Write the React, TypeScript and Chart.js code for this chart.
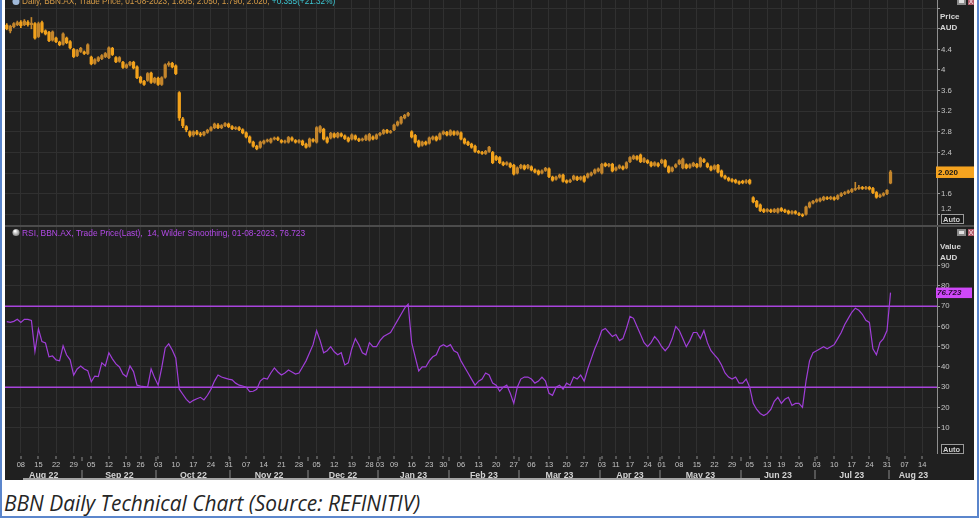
import React, { useEffect, useRef } from 'react';
import { Chart, registerables } from 'chart.js';

Chart.register(...registerables);

// ---------------- data ----------------
const FIRST_SESSION = '2022-08-02';
const AXIS_END = '2023-08-18';
const ASX_HOLIDAYS = ['2022-09-22', '2022-12-26', '2022-12-27', '2023-01-02', '2023-01-26', '2023-04-07', '2023-04-10', '2023-04-25', '2023-06-12'];
const MONTH_NAMES = ['Jan', 'Feb', 'Mar', 'Apr', 'May', 'Jun', 'Jul', 'Aug', 'Sep', 'Oct', 'Nov', 'Dec'];

const openPx = [
  4.87, 4.76, 4.84, 4.88, 4.93, 4.88, 4.93, 4.88, 4.90, 4.65,
  4.92, 4.76, 4.73, 4.58, 4.62, 4.54, 4.50, 4.62, 4.55, 4.40,
  4.28, 4.36, 4.35, 4.32, 4.25, 4.13, 4.18, 4.22, 4.26, 4.24,
  4.42, 4.24, 4.17, 4.15, 4.05, 4.10, 4.15, 4.06, 3.86, 3.78,
  3.80, 3.94, 3.76, 3.84, 3.72, 3.86, 4.10, 4.13, 4.08, 3.56,
  3.05, 2.90, 2.80, 2.74, 2.80, 2.76, 2.74, 2.79, 2.83, 2.88,
  2.93, 2.88, 2.92, 2.95, 2.90, 2.86, 2.88, 2.84, 2.78, 2.70,
  2.60, 2.52, 2.50, 2.58, 2.62, 2.60, 2.66, 2.68, 2.63, 2.60,
  2.60, 2.68, 2.63, 2.60, 2.62, 2.56, 2.52, 2.65, 2.60, 2.80,
  2.85, 2.68, 2.68, 2.76, 2.70, 2.76, 2.72, 2.68, 2.66, 2.72,
  2.66, 2.64, 2.65, 2.64, 2.70, 2.67, 2.74, 2.77, 2.83, 2.79,
  2.84, 2.93, 2.97, 3.07, 3.12, 2.80, 2.73, 2.62, 2.54, 2.60,
  2.58, 2.66, 2.70, 2.66, 2.76, 2.79, 2.74, 2.80, 2.75, 2.78,
  2.66, 2.60, 2.56, 2.52, 2.42, 2.40, 2.38, 2.42, 2.40, 2.32,
  2.30, 2.20, 2.17, 2.18, 2.15, 2.00, 2.10, 2.14, 2.10, 2.12,
  2.06, 2.04, 2.00, 2.05, 2.08, 1.92, 1.88, 1.92, 1.96, 1.85,
  1.83, 1.88, 1.92, 1.88, 1.93, 1.92, 1.96, 2.00, 2.04, 2.00,
  2.18, 2.14, 2.17, 2.06, 2.10, 2.12, 2.10, 2.22, 2.28, 2.32,
  2.35, 2.22, 2.24, 2.20, 2.15, 2.18, 2.20, 2.24, 2.12, 2.04,
  2.12, 2.18, 2.10, 2.16, 2.11, 2.14, 2.17, 2.13, 2.26, 2.18,
  2.12, 2.08, 2.15, 2.04, 1.94, 1.90, 1.87, 1.86, 1.83, 1.84,
  1.82, 1.86, 1.52, 1.45, 1.38, 1.29, 1.26, 1.28, 1.25, 1.24,
  1.31, 1.28, 1.26, 1.22, 1.25, 1.21, 1.19, 1.20, 1.34, 1.42,
  1.45, 1.46, 1.48, 1.52, 1.50, 1.52, 1.50, 1.56, 1.60, 1.62,
  1.64, 1.68, 1.70, 1.72, 1.70, 1.72, 1.70, 1.62, 1.54, 1.57,
  1.60, 1.805
];
const highPx = [
  4.90, 4.87, 4.92, 4.95, 4.96, 4.98, 4.96, 5.02, 4.92, 4.93,
  4.95, 4.78, 4.75, 4.76, 4.64, 4.56, 4.72, 4.64, 4.57, 4.42,
  4.40, 4.44, 4.37, 4.51, 4.27, 4.22, 4.26, 4.30, 4.34, 4.45,
  4.44, 4.26, 4.26, 4.17, 4.12, 4.17, 4.17, 4.08, 3.88, 3.80,
  3.95, 3.96, 3.86, 3.86, 3.87, 4.12, 4.16, 4.15, 4.10, 3.58,
  3.08, 2.92, 2.82, 2.82, 2.83, 2.79, 2.81, 2.85, 2.90, 2.97,
  2.96, 2.94, 2.98, 2.97, 2.92, 2.90, 2.90, 2.86, 2.80, 2.72,
  2.62, 2.54, 2.62, 2.64, 2.66, 2.68, 2.70, 2.70, 2.65, 2.64,
  2.71, 2.70, 2.65, 2.65, 2.64, 2.58, 2.68, 2.67, 2.90, 2.92,
  2.87, 2.70, 2.79, 2.78, 2.79, 2.78, 2.74, 2.70, 2.76, 2.74,
  2.68, 2.68, 2.74, 2.77, 2.72, 2.76, 2.79, 2.85, 2.85, 2.83,
  2.95, 3.01, 3.10, 3.14, 3.18, 2.82, 2.75, 2.64, 2.62, 2.62,
  2.70, 2.72, 2.72, 2.78, 2.82, 2.81, 2.84, 2.82, 2.82, 2.80,
  2.68, 2.62, 2.58, 2.54, 2.44, 2.42, 2.44, 2.52, 2.42, 2.34,
  2.32, 2.22, 2.22, 2.20, 2.17, 2.12, 2.17, 2.16, 2.17, 2.14,
  2.08, 2.06, 2.06, 2.11, 2.10, 1.94, 1.94, 1.98, 1.98, 1.87,
  1.88, 1.96, 1.94, 1.94, 1.95, 2.00, 2.02, 2.08, 2.10, 2.19,
  2.20, 2.19, 2.19, 2.12, 2.16, 2.14, 2.22, 2.32, 2.35, 2.34,
  2.37, 2.30, 2.26, 2.22, 2.22, 2.20, 2.27, 2.26, 2.14, 2.12,
  2.18, 2.26, 2.29, 2.18, 2.18, 2.21, 2.19, 2.31, 2.28, 2.20,
  2.14, 2.16, 2.17, 2.06, 1.96, 1.92, 1.89, 1.88, 1.85, 1.86,
  1.87, 1.88, 1.54, 1.47, 1.40, 1.31, 1.31, 1.30, 1.31, 1.32,
  1.33, 1.30, 1.28, 1.27, 1.27, 1.23, 1.21, 1.36, 1.44, 1.47,
  1.50, 1.52, 1.55, 1.54, 1.55, 1.54, 1.58, 1.62, 1.64, 1.67,
  1.70, 1.82, 1.76, 1.74, 1.74, 1.74, 1.72, 1.64, 1.59, 1.62,
  1.68, 2.05
];
const lowPx = [
  4.78, 4.72, 4.82, 4.86, 4.82, 4.86, 4.85, 4.80, 4.60, 4.63,
  4.72, 4.68, 4.55, 4.56, 4.53, 4.47, 4.48, 4.51, 4.41, 4.24,
  4.26, 4.34, 4.30, 4.30, 4.10, 4.11, 4.16, 4.20, 4.24, 4.22,
  4.28, 4.14, 4.15, 4.03, 4.03, 4.08, 4.02, 3.83, 3.74, 3.70,
  3.78, 3.74, 3.74, 3.70, 3.70, 3.84, 4.07, 4.04, 3.91, 3.02,
  2.88, 2.80, 2.70, 2.71, 2.74, 2.71, 2.72, 2.77, 2.81, 2.86,
  2.86, 2.86, 2.90, 2.88, 2.84, 2.84, 2.82, 2.76, 2.68, 2.58,
  2.50, 2.45, 2.48, 2.56, 2.60, 2.58, 2.64, 2.63, 2.58, 2.58,
  2.58, 2.62, 2.58, 2.58, 2.53, 2.48, 2.50, 2.60, 2.58, 2.78,
  2.64, 2.58, 2.66, 2.68, 2.68, 2.70, 2.65, 2.60, 2.64, 2.64,
  2.61, 2.62, 2.63, 2.62, 2.64, 2.65, 2.72, 2.75, 2.77, 2.77,
  2.82, 2.91, 2.95, 3.05, 3.10, 2.68, 2.58, 2.50, 2.52, 2.54,
  2.56, 2.64, 2.62, 2.64, 2.74, 2.72, 2.72, 2.73, 2.73, 2.64,
  2.56, 2.53, 2.48, 2.40, 2.38, 2.36, 2.36, 2.40, 2.18, 2.24,
  2.18, 2.14, 2.15, 2.10, 1.96, 1.98, 2.08, 2.06, 2.08, 2.04,
  2.00, 1.96, 1.98, 2.03, 1.91, 1.84, 1.86, 1.90, 1.82, 1.80,
  1.81, 1.86, 1.85, 1.86, 1.82, 1.90, 1.94, 1.98, 2.02, 1.98,
  2.12, 2.12, 2.02, 2.04, 2.08, 2.06, 2.08, 2.20, 2.26, 2.25,
  2.20, 2.20, 2.18, 2.12, 2.13, 2.12, 2.18, 2.11, 2.00, 2.02,
  2.10, 2.16, 2.08, 2.08, 2.09, 2.12, 2.10, 2.11, 2.20, 2.10,
  2.04, 2.06, 2.00, 1.92, 1.88, 1.84, 1.82, 1.80, 1.78, 1.79,
  1.80, 1.78, 1.42, 1.33, 1.25, 1.23, 1.24, 1.23, 1.23, 1.22,
  1.25, 1.23, 1.20, 1.20, 1.20, 1.17, 1.15, 1.18, 1.32, 1.40,
  1.43, 1.44, 1.46, 1.48, 1.48, 1.47, 1.48, 1.54, 1.58, 1.60,
  1.62, 1.66, 1.68, 1.68, 1.68, 1.67, 1.60, 1.51, 1.52, 1.55,
  1.58, 1.79
];
const closePx = [
  4.80, 4.85, 4.90, 4.92, 4.86, 4.95, 4.88, 4.91, 4.62, 4.90,
  4.74, 4.70, 4.57, 4.74, 4.55, 4.49, 4.70, 4.53, 4.43, 4.26,
  4.38, 4.42, 4.32, 4.49, 4.12, 4.20, 4.24, 4.28, 4.32, 4.43,
  4.30, 4.16, 4.24, 4.05, 4.10, 4.15, 4.04, 3.85, 3.76, 3.72,
  3.93, 3.76, 3.84, 3.72, 3.85, 4.10, 4.13, 4.06, 3.93, 3.07,
  2.92, 2.84, 2.73, 2.80, 2.76, 2.74, 2.79, 2.83, 2.88, 2.95,
  2.88, 2.92, 2.96, 2.90, 2.86, 2.88, 2.84, 2.78, 2.70, 2.60,
  2.52, 2.47, 2.60, 2.62, 2.64, 2.66, 2.68, 2.65, 2.60, 2.62,
  2.69, 2.64, 2.60, 2.63, 2.55, 2.50, 2.66, 2.62, 2.88, 2.90,
  2.66, 2.60, 2.77, 2.70, 2.77, 2.72, 2.67, 2.62, 2.74, 2.66,
  2.63, 2.66, 2.72, 2.75, 2.66, 2.74, 2.77, 2.83, 2.79, 2.81,
  2.93, 2.99, 3.08, 3.12, 3.16, 2.70, 2.60, 2.52, 2.60, 2.56,
  2.68, 2.70, 2.64, 2.76, 2.80, 2.74, 2.82, 2.75, 2.80, 2.66,
  2.58, 2.55, 2.50, 2.42, 2.40, 2.38, 2.42, 2.50, 2.20, 2.26,
  2.20, 2.16, 2.20, 2.12, 1.98, 2.10, 2.15, 2.08, 2.15, 2.06,
  2.02, 1.98, 2.04, 2.09, 1.93, 1.86, 1.92, 1.96, 1.84, 1.82,
  1.86, 1.94, 1.87, 1.92, 1.84, 1.98, 2.00, 2.06, 2.08, 2.17,
  2.14, 2.17, 2.04, 2.10, 2.14, 2.08, 2.20, 2.30, 2.33, 2.27,
  2.22, 2.28, 2.20, 2.14, 2.20, 2.14, 2.25, 2.13, 2.02, 2.10,
  2.16, 2.24, 2.27, 2.10, 2.16, 2.19, 2.12, 2.29, 2.22, 2.12,
  2.06, 2.14, 2.02, 1.94, 1.90, 1.86, 1.84, 1.82, 1.80, 1.81,
  1.85, 1.80, 1.44, 1.35, 1.27, 1.25, 1.29, 1.25, 1.29, 1.30,
  1.27, 1.25, 1.22, 1.25, 1.22, 1.19, 1.17, 1.34, 1.42, 1.45,
  1.48, 1.50, 1.53, 1.50, 1.53, 1.49, 1.56, 1.60, 1.62, 1.65,
  1.68, 1.70, 1.72, 1.70, 1.72, 1.69, 1.62, 1.53, 1.57, 1.60,
  1.665, 2.02
];
const rsi14 = [
  62.4, 62, 62.5, 63.5, 62, 63.5, 63.5, 63, 47.6, 58.8,
  52.5, 51.8, 45, 45.4, 43.5, 43, 50.4, 45.9, 43.5, 36,
  39, 40.5, 39, 38.2, 32.7, 35.5, 35.2, 42, 40.5, 47,
  44, 41.5, 40, 36.5, 35.2, 40.5, 37.7, 31, 30.5, 30.3,
  30, 39, 34.6, 31, 39.5, 49.4, 51.4, 48.4, 44.4, 29,
  26.5, 24, 22.3, 23.5, 24.3, 25, 23.7, 26, 29, 33,
  36, 35, 34.5, 34, 33.6, 32, 31, 30.6, 30, 27.8,
  28, 29, 33, 34.5, 34, 37, 39.5, 37.5, 36, 37,
  38.5, 37.5, 36.5, 37, 40, 43, 47, 51, 58, 53,
  47, 48, 50, 47.5, 46, 47, 41, 42, 49, 54,
  51, 47, 46, 52, 50, 50, 53, 55, 56, 57,
  60, 63, 66, 69, 71, 52, 45, 38, 40, 40,
  43, 45, 46, 50, 51, 50, 51, 48, 47, 43,
  40, 37, 34, 31, 33, 34, 37, 36, 32, 31,
  28, 30, 31, 27, 22, 30, 34, 35, 35, 34,
  32, 33, 35, 33, 27, 26, 30, 31, 29, 32,
  31, 35, 34, 36, 33, 39, 44, 49, 53, 58,
  59, 57, 55, 56, 53, 54, 59, 65, 64, 60,
  56, 52, 50, 52, 55, 53, 50, 48, 50, 54,
  60, 58, 54, 50, 53, 57, 57, 54, 58, 52,
  48, 46, 44, 41, 37, 35, 34, 35, 32, 32,
  34, 30, 22, 19, 17, 16, 17, 19, 23, 25,
  22, 24, 25, 21, 22, 22, 20, 33, 43, 47,
  48, 49, 50, 49, 50, 51, 54, 57, 61, 64,
  67, 69, 68, 66, 63, 62, 49, 46, 52, 54,
  58, 76.723
];

const priceGridTicks = [1.2, 1.6, 2.0, 2.4, 2.8, 3.2, 3.6, 4.0, 4.4, 4.8, 5.2];
const priceLabelTicks = [1.6, 2.0, 2.4, 2.8, 3.2, 3.6, 4.0, 4.4];
const rsiGridTicks = [10, 20, 30, 40, 50, 60, 70, 80, 90];
const rsiBands = [70, 30];
const headerMain = 'Daily, BBN.AX, Trade Price, 01-08-2023, 1.805, 2.050, 1.790, 2.020, ';
const headerChange = '+0.355(+21.32%)';
const rsiLegend = 'RSI, BBN.AX, Trade Price(Last),  14, Wilder Smoothing, 01-08-2023, 76.723';
const lastPriceText = '2.020';
const lastRsiText = '76.723';

// ---------------- styles ----------------
const BG = '#202020';
const GRID = '#303030';
const AXIS_TXT = '#c4c4c4';
const UP = '#c4862c';
const DOWN = '#f2a21c';
const RSI_LINE = '#a03ed8';
const BAND = '#a844dc';
const FONT = '"Liberation Sans", Arial, sans-serif';

function tradingDays(): Date[] {
  const out: Date[] = [];
  const d = new Date(FIRST_SESSION + 'T00:00:00Z');
  const end = new Date(AXIS_END + 'T00:00:00Z');
  while (d.getTime() <= end.getTime()) {
    const wd = d.getUTCDay();
    const iso = d.toISOString().slice(0, 10);
    if (wd !== 0 && wd !== 6 && !ASX_HOLIDAYS.includes(iso)) out.push(new Date(d.getTime()));
    d.setUTCDate(d.getUTCDate() + 1);
  }
  return out;
}

export default function App() {
  const ref = useRef<HTMLCanvasElement | null>(null);

  useEffect(() => {
    document.body.style.margin = '0';
    const canvas = ref.current;
    if (!canvas) return;

    const days = tradingDays();
    const lastIdx = days.length - 1;
    const xMin = -0.5;
    const xMax = lastIdx + 0.2;

    const weekIdx: number[] = [];
    for (let i = 1; i < days.length; i++) {
      if (days[i].getUTCDay() < days[i - 1].getUTCDay()) weekIdx.push(i);
    }
    const monthSegs: { a: number; b: number; label: string }[] = [];
    for (let i = 0; i < days.length; i++) {
      const m = days[i].getUTCMonth();
      if (i === 0 || m !== days[i - 1].getUTCMonth()) {
        monthSegs.push({ a: i, b: i, label: MONTH_NAMES[m] + ' ' + String(days[i].getUTCFullYear()).slice(2) });
      } else {
        monthSegs[monthSegs.length - 1].b = i;
      }
    }

    const colors = closePx.map((c, i) => (c >= openPx[i] ? UP : DOWN));
    const wickData = closePx.map((_, i) => ({ x: i, y: [lowPx[i], highPx[i]] }));
    const bodyData = closePx.map((c, i) => ({ x: i, y: [openPx[i], c] }));
    const rsiData = rsi14.map((v, i) => ({ x: i, y: v }));

    const decor = {
      id: 'decor',
      beforeDraw(chart: any) {
        const { ctx, width, height } = chart;
        ctx.save();
        ctx.fillStyle = BG;
        ctx.fillRect(0, 0, width, height);
        ctx.restore();
      },
      beforeDatasetsDraw(chart: any) {
        const { ctx, chartArea } = chart;
        const y2 = chart.scales.y2;
        ctx.save();
        ctx.strokeStyle = BAND;
        ctx.lineWidth = 1.4;
        rsiBands.forEach((v) => {
          const y = y2.getPixelForValue(v);
          ctx.beginPath();
          ctx.moveTo(chartArea.left, y);
          ctx.lineTo(chartArea.right, y);
          ctx.stroke();
        });
        ctx.restore();
      },
      afterDraw(chart: any) {
        const { ctx, chartArea, width } = chart;
        const xs = chart.scales.x;
        const ys = chart.scales.y;
        const y2 = chart.scales.y2;
        ctx.save();

        // pane separator
        const sep = Math.round(ys.bottom);
        ctx.fillStyle = '#4c4c4c';
        ctx.fillRect(0, sep - 1, width, 2);

        // x axis: day labels + tick marks
        ctx.font = '7.5px ' + FONT;
        ctx.textAlign = 'center';
        ctx.textBaseline = 'middle';
        weekIdx.forEach((i) => {
          const px = xs.getPixelForValue(i);
          if (px > chartArea.right) return;
          ctx.fillStyle = '#8c8c8c';
          ctx.fillRect(Math.round(px) - 0.5, 456, 1, 3);
          ctx.fillStyle = AXIS_TXT;
          ctx.fillText(String(days[i].getUTCDate()).padStart(2, '0'), px, 465);
        });
        // month labels + separators
        ctx.font = 'bold 8.8px ' + FONT;
        monthSegs.forEach((s, k) => {
          const pa = Math.max(xs.getPixelForValue(s.a), chartArea.left);
          const pb = Math.min(xs.getPixelForValue(s.b), chartArea.right);
          ctx.fillStyle = '#d2d2d2';
          ctx.fillText(s.label, (pa + pb) / 2, 475.5);
          if (k < monthSegs.length - 1) {
            const sx = Math.round(xs.getPixelForValue(s.b + 0.5)) - 0.5;
            ctx.fillStyle = '#8a8a8a';
            ctx.fillRect(sx, 457, 1, 4);
            ctx.fillRect(sx, 470, 1, 9);
          }
        });
        // scrollbar
        ctx.fillStyle = '#a4a4a4';
        ctx.fillRect(18, 478, 737, 2);

        // header (top pane)
        ctx.textAlign = 'left';
        ctx.textBaseline = 'alphabetic';
        ctx.font = '8.2px ' + FONT;
        ctx.fillStyle = '#d49a46';
        ctx.fillText(headerMain, 17, 4);
        const hw = ctx.measureText(headerMain).width;
        ctx.fillStyle = '#3cc6d2';
        ctx.fillText(headerChange, 17 + hw, 4);
        // header icon
        ctx.fillStyle = '#9fb8d8';
        ctx.beginPath();
        ctx.arc(11, 1.5, 3.5, 0, Math.PI * 2);
        ctx.fill();

        // RSI legend
        ctx.font = '8.4px ' + FONT;
        ctx.fillStyle = '#b24ae6';
        ctx.fillText(rsiLegend, 17, 236);
        const g = ctx.createRadialGradient(10, 231, 0.5, 11, 232.5, 4);
        g.addColorStop(0, '#ffffff');
        g.addColorStop(1, '#7a7a7a');
        ctx.fillStyle = g;
        ctx.beginPath();
        ctx.arc(11, 232.5, 3.6, 0, Math.PI * 2);
        ctx.fill();

        // right axis titles
        ctx.fillStyle = '#d6d6d6';
        ctx.font = 'bold 8px ' + FONT;
        ctx.fillText('Price', 935, 18.5);
        ctx.fillText('AUD', 935, 29.5);
        ctx.fillText('Value', 935, 248.5);
        ctx.fillText('AUD', 935, 260);

        // relocated 1.2 label
        ctx.font = '7.5px ' + FONT;
        ctx.fillStyle = AXIS_TXT;
        ctx.textBaseline = 'middle';
        ctx.fillText('1.2', 936, ys.getPixelForValue(1.2) - 5);

        // last value boxes
        const py = ys.getPixelForValue(closePx[closePx.length - 1]);
        ctx.fillStyle = '#f5a31f';
        ctx.fillRect(931, py - 5.5, width - 931, 11.5);
        ctx.fillStyle = '#151515';
        ctx.font = 'bold 8px ' + FONT;
        ctx.fillText(lastPriceText, 933, py + 0.5);
        const ry = y2.getPixelForValue(rsi14[rsi14.length - 1]);
        ctx.fillStyle = '#cf48f8';
        ctx.fillRect(931, ry - 5, width - 933, 10.5);
        ctx.fillStyle = '#2a0a36';
        ctx.font = 'italic bold 8px ' + FONT;
        ctx.fillText(lastRsiText, 932, ry + 0.5);

        // Auto boxes
        const autoBox = (top: number) => {
          ctx.fillStyle = '#1a1a1a';
          ctx.fillRect(936, top, 23, 10);
          ctx.strokeStyle = '#9a9a9a';
          ctx.lineWidth = 1;
          ctx.strokeRect(936.5, top + 0.5, 22, 9);
          ctx.fillStyle = '#d0d0d0';
          ctx.font = 'bold 7.5px ' + FONT;
          ctx.fillText('Auto', 938, top + 5.5);
        };
        autoBox(214);
        autoBox(444);

        // small pane buttons
        const btns = (top: number) => {
          ctx.fillStyle = '#8a8a8a';
          ctx.fillRect(952, top, 9, 7);
          ctx.fillStyle = '#e0e0e0';
          ctx.fillRect(954, top + 2, 5, 3);
          ctx.fillStyle = '#b05a6a';
          ctx.fillRect(963, top, 6, 7);
          ctx.strokeStyle = '#f0d0d8';
          ctx.beginPath();
          ctx.moveTo(964, top + 1);
          ctx.lineTo(968, top + 6);
          ctx.moveTo(968, top + 1);
          ctx.lineTo(964, top + 6);
          ctx.stroke();
        };
        btns(-2);
        btns(229);

        ctx.restore();
      },
    };

    const chart = new Chart(canvas, {
      type: 'bar',
      data: {
        datasets: [
          {
            type: 'bar',
            data: wickData as any,
            yAxisID: 'y',
            xAxisID: 'x',
            backgroundColor: colors,
            barThickness: 1,
            grouped: false,
            borderWidth: 0,
          },
          {
            type: 'bar',
            data: bodyData as any,
            yAxisID: 'y',
            xAxisID: 'x',
            backgroundColor: colors,
            barThickness: 2.6,
            minBarLength: 1,
            grouped: false,
            borderWidth: 0,
          },
          {
            type: 'line',
            data: rsiData as any,
            yAxisID: 'y2',
            xAxisID: 'x',
            borderColor: RSI_LINE,
            borderWidth: 1.2,
            pointRadius: 0,
            tension: 0,
          },
        ],
      } as any,
      options: {
        animation: false,
        responsive: false,
        maintainAspectRatio: false,
        devicePixelRatio: 1,
        events: [],
        layout: { padding: 0 },
        plugins: { legend: { display: false }, tooltip: { enabled: false } },
        scales: {
          x: {
            type: 'linear',
            min: xMin,
            max: xMax,
            offset: false,
            position: 'bottom',
            afterBuildTicks: (s: any) => {
              s.ticks = weekIdx.filter((v) => v <= xMax).map((v) => ({ value: v }));
            },
            afterFit: (s: any) => {
              s.height = 27;
              s.paddingLeft = 0;
              s.paddingRight = 0;
            },
            ticks: { display: false },
            grid: { color: GRID, lineWidth: 1, drawTicks: false, offset: false },
            border: { display: false },
          },
          y: {
            type: 'linear',
            position: 'right',
            stack: 'panes',
            stackWeight: 226,
            min: 0.971,
            max: 5.359,
            afterBuildTicks: (s: any) => {
              s.ticks = priceGridTicks.map((v) => ({ value: v }));
            },
            afterFit: (s: any) => {
              s.width = 37;
              s.paddingTop = 0;
              s.paddingBottom = 0;
            },
            ticks: {
              color: AXIS_TXT,
              font: { family: FONT, size: 7.8 },
              padding: 1,
              autoSkip: false,
              callback: (v: any) => (priceLabelTicks.includes(v) ? String(Number(Number(v).toFixed(1))) : ''),
            },
            grid: { color: GRID, tickColor: '#9a9a9a', tickLength: 3 },
            border: { display: true, color: '#8e8e8e', width: 1 },
          },
          y2: {
            type: 'linear',
            position: 'right',
            stack: 'panes',
            stackWeight: 227,
            min: -2.5,
            max: 109.6,
            afterBuildTicks: (s: any) => {
              s.ticks = rsiGridTicks.map((v) => ({ value: v }));
            },
            afterFit: (s: any) => {
              s.width = 37;
              s.paddingTop = 0;
              s.paddingBottom = 0;
            },
            ticks: {
              color: AXIS_TXT,
              font: { family: FONT, size: 7.8 },
              padding: 1,
              autoSkip: false,
              callback: (v: any) => String(v),
            },
            grid: { color: GRID, tickColor: '#9a9a9a', tickLength: 3 },
            border: { display: true, color: '#8e8e8e', width: 1 },
          },
        },
      } as any,
      plugins: [decor],
    });

    return () => {
      chart.destroy();
    };
  }, []);

  return (
    <div
      style={{
        position: 'relative',
        width: 979,
        height: 518,
        background: '#ffffff',
        overflow: 'hidden',
      }}
    >
      <canvas
        ref={ref}
        width={969}
        height={480}
        style={{ position: 'absolute', left: 5, top: 0, width: 969, height: 480, display: 'block' }}
      />
      <div
        style={{
          position: 'absolute',
          left: 4,
          top: 493,
          font: 'italic 20.9px "Open Sans", sans-serif',
          lineHeight: '20px',
          color: '#262626',
          whiteSpace: 'nowrap',
        }}
      >
        BBN Daily Technical Chart (Source: REFINITIV)
      </div>
      <div style={{ position: 'absolute', left: 0, top: 0, width: 2, height: 518, background: '#5b86cc' }} />
      <div style={{ position: 'absolute', left: 977, top: 0, width: 2, height: 518, background: '#5b86cc' }} />
      <div style={{ position: 'absolute', left: 0, top: 516, width: 979, height: 2, background: '#5b86cc' }} />
    </div>
  );
}
